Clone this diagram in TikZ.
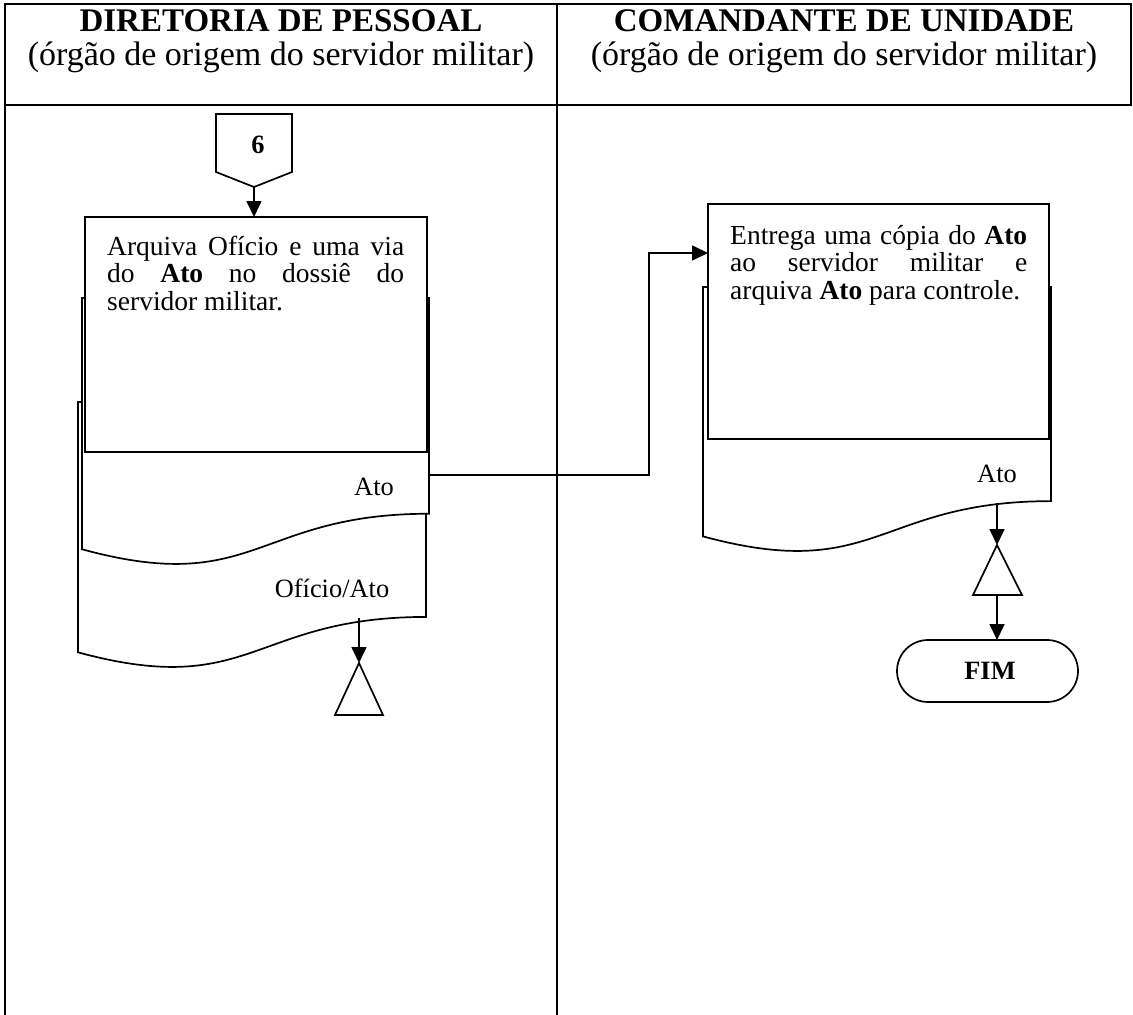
\documentclass[tikz,border=0pt]{standalone}
\usepackage{fontspec}
\setmainfont{Liberation Serif}
\usetikzlibrary{arrows.meta}
\hbadness=10000
\hfuzz=50pt

% one unit = 1pt, y grows downwards
\tikzset{
  x=1pt, y=-1pt,
  frame/.style={line width=2pt, line cap=rect},
  shapeline/.style={line width=1.7pt, line join=miter},
  flow/.style={line width=1.7pt, -{Triangle[length=16pt,width=15pt]}},
  proc/.style={shapeline, fill=white},
  docpath/.style={shapeline, fill=white},
  bodytext/.style={inner sep=0pt, text width=297pt, align=justify,
    font=\fontsize{27.5}{27.5}\selectfont},
  lbl/.style={inner sep=0pt, font=\fontsize{26.4}{27.5}\selectfont},
  headtitle/.style={inner sep=0pt, anchor=base, font=\fontsize{33}{36}\selectfont\bfseries},
  headsub/.style={inner sep=0pt, anchor=base, font=\fontsize{34}{37}\selectfont},
  merge/.style={shapeline, fill=white},
  terminal/.style={shapeline, rounded corners=31pt},
}

% document symbol: left x, top y, width, height
\newcommand{\docsym}[4]{%
  \filldraw[docpath]
    (#1,#2) -- ({#1+#3},#2) -- ({#1+#3},{#2+0.802*#4})
    .. controls ({#1+0.5*#3},{#2+0.802*#4}) and ({#1+0.5*#3},{#2+1.1106*#4}) ..
    (#1,{#2+0.934*#4}) -- cycle;}

\begin{document}
\begin{tikzpicture}
\useasboundingbox (0,0) rectangle (1133,1015);

% swimlane table
\draw[frame] (5,4) -- (1131,4);
\draw[frame] (5,105) -- (1131,105);
\draw[frame] (5,4) -- (5,1015);
\draw[frame] (557,4) -- (557,1015);
\draw[frame] (1131,4) -- (1131,105);

\node[headtitle] (h1) at (281,31) {DIRETORIA DE PESSOAL};
\node[headsub]   (s1) at (281,65) {(órgão de origem do servidor militar)};
\node[headtitle] (h2) at (844,31) {COMANDANTE DE UNIDADE};
\node[headsub]   (s2) at (844,65) {(órgão de origem do servidor militar)};

% off-page connector 6
\filldraw[shapeline, fill=white] (216,114) -- (292,114) -- (292,172) -- (254,187) -- (216,172) -- cycle;
\node[inner sep=0pt, font=\fontsize{26.4}{27.5}\selectfont\bfseries] (c6) at (258,145) {6};
\coordinate (c6tip) at (254,187);

% left lane: document stack behind the process box
\docsym{78}{402}{348}{268}
\docsym{82}{298}{347}{269}
\filldraw[proc] (85,217) rectangle (427,452);
\coordinate (p1top) at (254,217);
\node[bodytext, anchor=base west] (p1) at (107,255)
  {Arquiva Ofício e uma via\linebreak do \textbf{Ato} no dossiê do\linebreak servidor militar.};
\node[lbl, anchor=base] (d1) at (374,495) {Ato};
\node[lbl, anchor=base] (d2) at (332,597) {Ofício/Ato};
\coordinate (d1out) at (429,475);
\coordinate (d2out) at (359,618);

% left lane: file
\filldraw[merge] (359,663) -- (383,715) -- (335,715) -- cycle;
\coordinate (arq1) at (359,663);

% right lane
\docsym{703}{287}{348}{267}
\filldraw[proc] (708,204) rectangle (1049,439);
\coordinate (p2in) at (708,253);
\node[bodytext, anchor=base west] (p2) at (730,244)
  {Entrega uma cópia do \textbf{Ato}\linebreak ao servidor militar e\linebreak arquiva \textbf{Ato} para controle.};
\node[lbl, anchor=base] (d3) at (997,482) {Ato};
\coordinate (d3out) at (997,503);

\filldraw[merge] (997,545) -- (1022,595) -- (973,595) -- cycle;
\coordinate (arq2top) at (997,545);
\coordinate (arq2bot) at (997,595);

\draw[terminal] (897,640) rectangle (1078,702);
\node[inner sep=0pt, font=\fontsize{26.4}{27.5}\selectfont\bfseries] (fim) at (990,671) {FIM};
\coordinate (fimtop) at (997,640);

% connectors
\draw[flow] (c6tip) -- (p1top);
\draw[flow] (d2out) -- (arq1);
\draw[flow] (d1out) -- (649,475) -- (649,253) -- (p2in);
\draw[flow] (d3out) -- (arq2top);
\draw[flow] (arq2bot) -- (fimtop);
\end{tikzpicture}
\end{document}
